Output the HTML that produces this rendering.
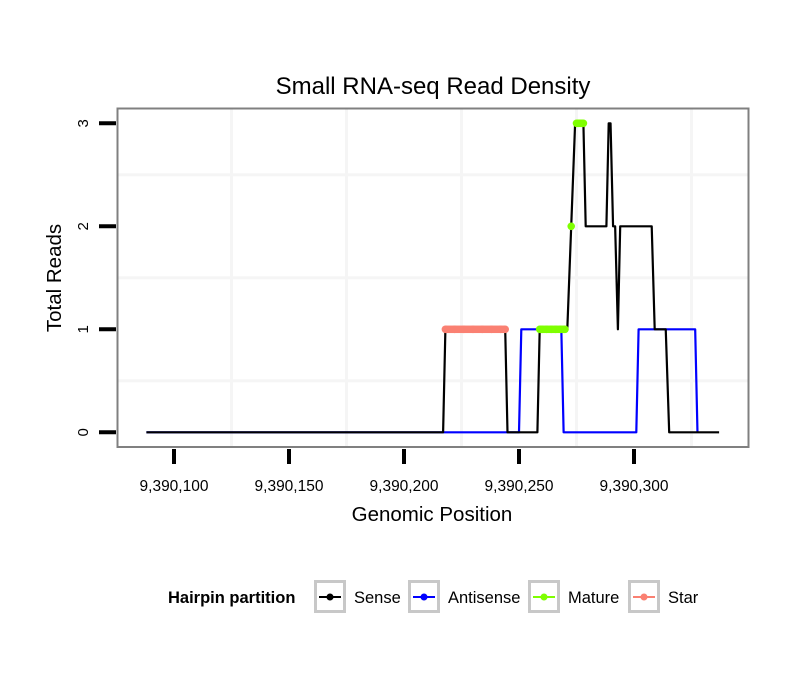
<!DOCTYPE html>
<html><head><meta charset="utf-8"><style>
body{margin:0;background:#fff;}
svg text{font-family:"Liberation Sans",sans-serif;}
</style></head><body>
<svg id="chart" width="810" height="690" xmlns="http://www.w3.org/2000/svg">
<rect width="810" height="690" fill="#fff"/>
<text x="433" y="94" font-size="24" text-anchor="middle">Small RNA-seq Read Density</text>
<g id="grid"></g>
<g id="series"></g>
<rect x="117.5" y="108.5" width="631" height="338.5" fill="none" stroke="#808080" stroke-width="2"/>
<g id="axes"></g>
<text x="432" y="521" font-size="20.5" text-anchor="middle">Genomic Position</text>
<text transform="translate(61,278) rotate(-90)" font-size="20.5" text-anchor="middle">Total Reads</text>
<g id="legend">
<text x="168" y="603" font-size="16.5" font-weight="bold">Hairpin partition</text>
</g>
</svg>
<script>
const NS="http://www.w3.org/2000/svg";
const xTicks=[9390100,9390150,9390200,9390250,9390300];
const xTickLabels=["9,390,100","9,390,150","9,390,200","9,390,250","9,390,300"];
const yTicks=[0,1,2,3];
const senseX=[9390088,9390217,9390218,9390244,9390245,9390258,9390259,9390271,9390272.7,9390274.4,9390278,9390279,9390288,9390289,9390289.8,9390290.9,9390291.8,9390293,9390294,9390307.7,9390309,9390313.8,9390315.3,9390337];
const senseY=[0,0,1,1,0,0,1,1,2,3,3,2,2,3,3,2,2,1,2,2,1,1,0,0];
const antiX=[9390088,9390250,9390251,9390268.4,9390269.4,9390301,9390302,9390326.6,9390327.6];
const antiY=[0,0,1,1,0,0,1,1,0];
const matureX=[9390259,9390260,9390262,9390264,9390266,9390268,9390270,9390272.7,9390275,9390276,9390277,9390278];
const matureY=[1,1,1,1,1,1,1,2,3,3,3,3];
const starX=[9390218,9390222,9390226,9390230,9390234,9390238,9390242,9390244];
const starY=[1,1,1,1,1,1,1,1];
const legendLabels=["Sense","Antisense","Mature","Star"];
const legendColors=["#000000","#0000ff","#7fff00","#fa8072"];

const sx=v=>519+(v-9390250)*2.3;
const sy=v=>432.3-v*103;

const grid=document.getElementById('grid');
function line(p,x1,y1,x2,y2,st,w){const l=document.createElementNS(NS,'line');l.setAttribute('x1',x1);l.setAttribute('y1',y1);l.setAttribute('x2',x2);l.setAttribute('y2',y2);l.setAttribute('stroke',st);l.setAttribute('stroke-width',w);p.appendChild(l);return l;}
for(let i=0;i<xTicks.length;i++){
  let l=line(grid,sx(xTicks[i]+25),109,sx(xTicks[i]+25),446,'#f5f5f5',3);
  
  
}
for(let i=0;i<yTicks.length-1;i++){
  let l=line(grid,118,sy(yTicks[i]+0.5),748,sy(yTicks[i]+0.5),'#f5f5f5',3);
  
  
}
const series=document.getElementById('series');
function path(xs,ys,color,w,name){
  const p=document.createElementNS(NS,'polyline');
  p.setAttribute('points',xs.map((x,i)=>sx(x)+','+sy(ys[i])).join(' '));
  p.setAttribute('fill','none');p.setAttribute('stroke',color);p.setAttribute('stroke-width',w);
  p.setAttribute('stroke-linejoin','round');
  
  
  series.appendChild(p);
}
path(antiX,antiY,'#0000ff',2.2,'antisense-line');
path(senseX,senseY,'#000000',2.2,'sense-line');
function pts(xs,ys,color,name){
  for(let i=0;i<xs.length;i++){
    if(i>0&&ys[i]===ys[i-1]){
      const l=line(series,sx(xs[i-1]),sy(ys[i]),sx(xs[i]),sy(ys[i]),color,7.5);
      
      
    }
    const c=document.createElementNS(NS,'circle');
    c.setAttribute('cx',sx(xs[i]));c.setAttribute('cy',sy(ys[i]));c.setAttribute('r',3.8);c.setAttribute('fill',color);
    
    
    series.appendChild(c);
  }
}
pts(starX,starY,'#fa8072','star');
pts(matureX,matureY,'#7fff00','mature');

const axes=document.getElementById('axes');
for(let i=0;i<xTicks.length;i++){
  const l=line(axes,sx(xTicks[i]),449,sx(xTicks[i]),464,'#000',4);
  
  
  const t=document.createElementNS(NS,'text');
  t.setAttribute('x',sx(xTicks[i]));t.setAttribute('y',491);t.setAttribute('font-size',15.5);t.setAttribute('text-anchor','middle');
  t.textContent=xTickLabels[i];
  
  
  axes.appendChild(t);
}
for(let i=0;i<yTicks.length;i++){
  const l=line(axes,99,sy(yTicks[i]),116,sy(yTicks[i]),'#000',4);
  
  
  const t=document.createElementNS(NS,'text');
  t.setAttribute('transform','translate(88,'+sy(yTicks[i])+') rotate(-90)');
  t.setAttribute('font-size',15);t.setAttribute('text-anchor','middle');
  t.textContent=yTicks[i];
  
  
  axes.appendChild(t);
}
const legend=document.getElementById('legend');
const keyX=[314,408,528,628];
const labX=[354,448,568,668];
for(let i=0;i<legendLabels.length;i++){
  const r=document.createElementNS(NS,'rect');
  r.setAttribute('x',keyX[i]+1.5);r.setAttribute('y',581.5);r.setAttribute('width',29);r.setAttribute('height',30);
  r.setAttribute('fill','#fff');r.setAttribute('stroke','#c8c8c8');r.setAttribute('stroke-width',3);
  
  
  legend.appendChild(r);
  const l=line(legend,keyX[i]+5,597,keyX[i]+27,597,legendColors[i],2);
  
  
  const c=document.createElementNS(NS,'circle');
  c.setAttribute('cx',keyX[i]+16);c.setAttribute('cy',597);c.setAttribute('r',3.5);c.setAttribute('fill',legendColors[i]);
  
  
  legend.appendChild(c);
  const t=document.createElementNS(NS,'text');
  t.setAttribute('x',labX[i]);t.setAttribute('y',603);t.setAttribute('font-size',16.5);
  t.textContent=legendLabels[i];
  
  
  legend.appendChild(t);
}
</script>
</body></html>
